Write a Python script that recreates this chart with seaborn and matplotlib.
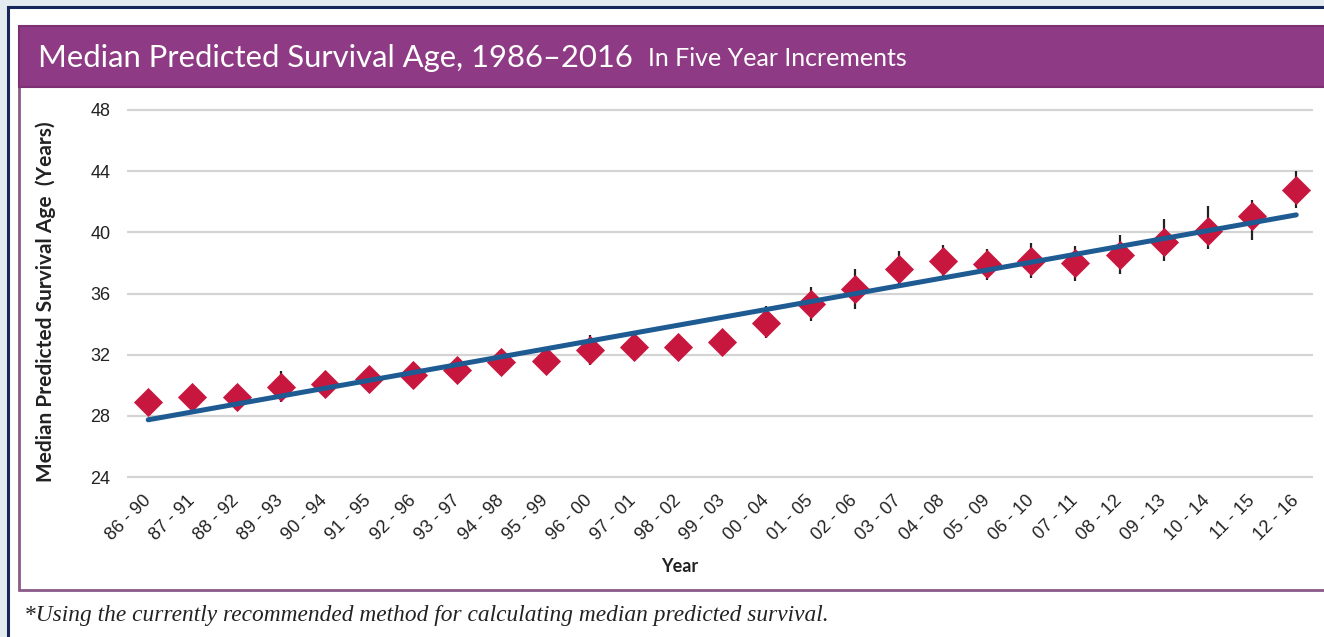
import numpy as np
import pandas as pd
import matplotlib.pyplot as plt
import seaborn as sns
from matplotlib.patches import Rectangle

# data
periods = ['86 - 90', '87 - 91', '88 - 92', '89 - 93', '90 - 94', '91 - 95', '92 - 96',
           '93 - 97', '94 - 98', '95 - 99', '96 - 00', '97 - 01', '98 - 02', '99 - 03',
           '00 - 04', '01 - 05', '02 - 06', '03 - 07', '04 - 08', '05 - 09', '06 - 10',
           '07 - 11', '08 - 12', '09 - 13', '10 - 14', '11 - 15', '12 - 16']
median_age = [28.9, 29.2, 29.2, 29.9, 30.1, 30.4, 30.7, 31.0, 31.5, 31.6, 32.3, 32.5,
              32.5, 32.8, 34.1, 35.3, 36.3, 37.6, 38.1, 37.9, 38.1, 38.0, 38.5, 39.4,
              40.1, 41.1, 42.8]
err_low = [0.7, 0.8, 0.8, 1.0, 0.8, 0.8, 0.8, 0.7, 0.8, 0.7, 1.0, 0.8, 0.8, 0.7,
           1.0, 1.1, 1.3, 1.2, 1.1, 1.0, 1.1, 1.2, 1.2, 1.3, 1.2, 1.6, 1.2]
err_high = [0.7, 0.8, 0.8, 1.0, 0.8, 0.8, 0.8, 0.7, 0.8, 0.7, 1.0, 0.8, 0.8, 0.7,
            1.1, 1.1, 1.3, 1.2, 1.1, 1.0, 1.2, 1.1, 1.3, 1.5, 1.6, 1.0, 1.2]
y_ticks = [24, 28, 32, 36, 40, 44, 48]

df = pd.DataFrame({'pos': np.arange(len(periods)), 'period': periods, 'age': median_age})

W, H = 1324, 637
PURPLE = '#8e3a84'
RED = '#c8173f'
BLUE = '#1d5b92'

sns.set_theme(style='white')
plt.rcParams['font.family'] = ['Lato', 'DejaVu Sans']

fig = plt.figure(figsize=(W / 100, H / 100), dpi=100)
fig.patch.set_facecolor('#e4ecf0')


def box(x0, y0, x1, y1, **kw):
    # pixel box (top-left origin) to figure fraction
    return Rectangle((x0 / W, 1 - y1 / H), (x1 - x0) / W, (y1 - y0) / H,
                     transform=fig.transFigure, zorder=-5, **kw)


fig.add_artist(box(8, 7, W + 5, H + 5, facecolor='white', edgecolor='#17285a', linewidth=2.2))
fig.add_artist(box(19, 26, W + 5, 590, facecolor='white', edgecolor='#8a5a88', linewidth=2))
fig.add_artist(box(19, 26, W + 5, 87, facecolor=PURPLE, edgecolor='#7c3174', linewidth=1.5))

fig.text(38 / W, 1 - 58 / H, 'Median Predicted Survival Age, 1986\u20132016', color='white',
         fontsize=22.3, va='center', ha='left')
fig.text(648 / W, 1 - 59 / H, 'In Five Year Increments', color='white',
         fontsize=18, va='center', ha='left')
fig.text(24 / W, 1 - 615 / H, '*Using the currently recommended method for calculating median predicted survival.',
         fontsize=16.8, style='italic', va='center', ha='left', color='#222222',
         family=['Liberation Serif', 'DejaVu Serif'])

ylo, yhi = 23.8, 48.2
py_per = (477 - 110) / 24
top_px = 110 - (yhi - 48) * py_per
bot_px = 477 + (24 - ylo) * py_per
ax_l, ax_r = 127, 1313
ax = fig.add_axes([ax_l / W, 1 - bot_px / H, (ax_r - ax_l) / W, (bot_px - top_px) / H])
ax.set_facecolor('none')

ax.errorbar(df['pos'], df['age'], yerr=[err_low, err_high], fmt='none',
            ecolor='#222222', elinewidth=1.6, capsize=0, zorder=2)
sns.scatterplot(data=df, x='pos', y='age', marker='D', s=220, color=RED,
                edgecolor=RED, linewidth=0, ax=ax, zorder=3)
sns.regplot(data=df, x='pos', y='age', scatter=False, ci=None, truncate=True,
            line_kws={'color': BLUE, 'linewidth': 3.6, 'zorder': 4}, ax=ax)

ax.set_xlim(-0.48, len(periods) - 0.62)
ax.set_ylim(ylo, yhi)
ax.set_yticks(y_ticks)
ax.set_yticklabels([str(t) for t in y_ticks], fontsize=13, family=['Liberation Sans', 'DejaVu Sans'],
                   color='#222222')
ax.set_xticks(df['pos'])
ax.set_xticklabels(periods, rotation=45, ha='right', va='center', rotation_mode='anchor',
                   fontsize=13, family=['Liberation Sans', 'DejaVu Sans'], color='#222222')
ax.tick_params(axis='x', pad=13, length=0)
ax.tick_params(axis='y', pad=12, length=0)
ax.grid(axis='y', color='#d4d4d4', linewidth=1.6)
ax.set_axisbelow(True)
for s in ax.spines.values():
    s.set_visible(False)

ax.set_xlabel('Year', fontsize=13, fontweight='bold', color='#222222')
ax.set_ylabel('Median Predicted Survival Age  (Years)', fontsize=15, fontweight='bold',
              color='#222222')
ax_h = bot_px - top_px
ax.xaxis.set_label_coords((680 - ax_l) / (ax_r - ax_l), (bot_px - 558) / ax_h)
ax.yaxis.set_label_coords((56 - ax_l) / (ax_r - ax_l), (bot_px - 302) / ax_h)

fig.savefig('out.png', dpi=100, facecolor=fig.get_facecolor())
